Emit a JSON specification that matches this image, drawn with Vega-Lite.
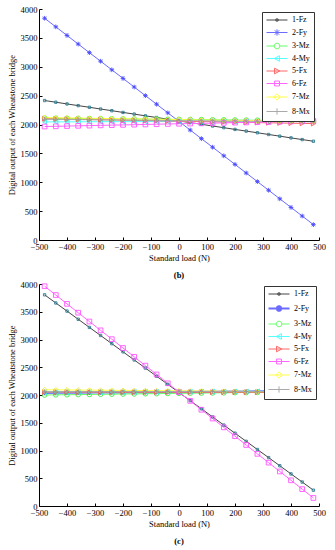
{
"$schema":"https://vega.github.io/schema/vega-lite/v6.json",
"padding":{"left":7,"top":5,"right":5,"bottom":5},
"datasets":{
"b":[
{"s":"1-Fz","x":-480,"y":2415},{"s":"1-Fz","x":-440,"y":2386},{"s":"1-Fz","x":-400,"y":2356},{"s":"1-Fz","x":-360,"y":2327},{"s":"1-Fz","x":-320,"y":2298},{"s":"1-Fz","x":-280,"y":2268},{"s":"1-Fz","x":-240,"y":2239},{"s":"1-Fz","x":-200,"y":2209},{"s":"1-Fz","x":-160,"y":2180},{"s":"1-Fz","x":-120,"y":2150},{"s":"1-Fz","x":-80,"y":2121},{"s":"1-Fz","x":-40,"y":2092},{"s":"1-Fz","x":0,"y":2062},{"s":"1-Fz","x":40,"y":2033},{"s":"1-Fz","x":80,"y":2004},{"s":"1-Fz","x":120,"y":1974},{"s":"1-Fz","x":160,"y":1945},{"s":"1-Fz","x":200,"y":1915},{"s":"1-Fz","x":240,"y":1886},{"s":"1-Fz","x":280,"y":1857},{"s":"1-Fz","x":320,"y":1827},{"s":"1-Fz","x":360,"y":1798},{"s":"1-Fz","x":400,"y":1768},{"s":"1-Fz","x":440,"y":1739},{"s":"1-Fz","x":480,"y":1710},
{"s":"2-Fy","x":-480,"y":3840},{"s":"2-Fy","x":-440,"y":3691},{"s":"2-Fy","x":-400,"y":3542},{"s":"2-Fy","x":-360,"y":3393},{"s":"2-Fy","x":-320,"y":3244},{"s":"2-Fy","x":-280,"y":3096},{"s":"2-Fy","x":-240,"y":2947},{"s":"2-Fy","x":-200,"y":2798},{"s":"2-Fy","x":-160,"y":2649},{"s":"2-Fy","x":-120,"y":2500},{"s":"2-Fy","x":-80,"y":2351},{"s":"2-Fy","x":-40,"y":2202},{"s":"2-Fy","x":0,"y":2053},{"s":"2-Fy","x":40,"y":1904},{"s":"2-Fy","x":80,"y":1755},{"s":"2-Fy","x":120,"y":1607},{"s":"2-Fy","x":160,"y":1458},{"s":"2-Fy","x":200,"y":1309},{"s":"2-Fy","x":240,"y":1160},{"s":"2-Fy","x":280,"y":1011},{"s":"2-Fy","x":320,"y":862},{"s":"2-Fy","x":360,"y":713},{"s":"2-Fy","x":400,"y":564},{"s":"2-Fy","x":440,"y":415},{"s":"2-Fy","x":480,"y":266},
{"s":"3-Mz","x":-480,"y":2110},{"s":"3-Mz","x":-440,"y":2108},{"s":"3-Mz","x":-400,"y":2106},{"s":"3-Mz","x":-360,"y":2104},{"s":"3-Mz","x":-320,"y":2103},{"s":"3-Mz","x":-280,"y":2101},{"s":"3-Mz","x":-240,"y":2099},{"s":"3-Mz","x":-200,"y":2097},{"s":"3-Mz","x":-160,"y":2095},{"s":"3-Mz","x":-120,"y":2093},{"s":"3-Mz","x":-80,"y":2091},{"s":"3-Mz","x":-40,"y":2089},{"s":"3-Mz","x":0,"y":2088},{"s":"3-Mz","x":40,"y":2086},{"s":"3-Mz","x":80,"y":2084},{"s":"3-Mz","x":120,"y":2082},{"s":"3-Mz","x":160,"y":2080},{"s":"3-Mz","x":200,"y":2078},{"s":"3-Mz","x":240,"y":2076},{"s":"3-Mz","x":280,"y":2074},{"s":"3-Mz","x":320,"y":2072},{"s":"3-Mz","x":360,"y":2071},{"s":"3-Mz","x":400,"y":2069},{"s":"3-Mz","x":440,"y":2067},{"s":"3-Mz","x":480,"y":2065},
{"s":"4-My","x":-480,"y":2045},{"s":"4-My","x":-440,"y":2046},{"s":"4-My","x":-400,"y":2046},{"s":"4-My","x":-360,"y":2047},{"s":"4-My","x":-320,"y":2048},{"s":"4-My","x":-280,"y":2048},{"s":"4-My","x":-240,"y":2049},{"s":"4-My","x":-200,"y":2049},{"s":"4-My","x":-160,"y":2050},{"s":"4-My","x":-120,"y":2051},{"s":"4-My","x":-80,"y":2051},{"s":"4-My","x":-40,"y":2052},{"s":"4-My","x":0,"y":2053},{"s":"4-My","x":40,"y":2053},{"s":"4-My","x":80,"y":2054},{"s":"4-My","x":120,"y":2054},{"s":"4-My","x":160,"y":2055},{"s":"4-My","x":200,"y":2056},{"s":"4-My","x":240,"y":2056},{"s":"4-My","x":280,"y":2057},{"s":"4-My","x":320,"y":2058},{"s":"4-My","x":360,"y":2058},{"s":"4-My","x":400,"y":2059},{"s":"4-My","x":440,"y":2059},{"s":"4-My","x":480,"y":2060},
{"s":"5-Fx","x":-480,"y":2100},{"s":"5-Fx","x":-440,"y":2096},{"s":"5-Fx","x":-400,"y":2093},{"s":"5-Fx","x":-360,"y":2089},{"s":"5-Fx","x":-320,"y":2086},{"s":"5-Fx","x":-280,"y":2082},{"s":"5-Fx","x":-240,"y":2079},{"s":"5-Fx","x":-200,"y":2075},{"s":"5-Fx","x":-160,"y":2072},{"s":"5-Fx","x":-120,"y":2068},{"s":"5-Fx","x":-80,"y":2065},{"s":"5-Fx","x":-40,"y":2061},{"s":"5-Fx","x":0,"y":2058},{"s":"5-Fx","x":40,"y":2054},{"s":"5-Fx","x":80,"y":2050},{"s":"5-Fx","x":120,"y":2047},{"s":"5-Fx","x":160,"y":2043},{"s":"5-Fx","x":200,"y":2040},{"s":"5-Fx","x":240,"y":2036},{"s":"5-Fx","x":280,"y":2033},{"s":"5-Fx","x":320,"y":2029},{"s":"5-Fx","x":360,"y":2026},{"s":"5-Fx","x":400,"y":2022},{"s":"5-Fx","x":440,"y":2019},{"s":"5-Fx","x":480,"y":2015},
{"s":"6-Fz","x":-480,"y":1965},{"s":"6-Fz","x":-440,"y":1969},{"s":"6-Fz","x":-400,"y":1973},{"s":"6-Fz","x":-360,"y":1977},{"s":"6-Fz","x":-320,"y":1981},{"s":"6-Fz","x":-280,"y":1985},{"s":"6-Fz","x":-240,"y":1989},{"s":"6-Fz","x":-200,"y":1993},{"s":"6-Fz","x":-160,"y":1997},{"s":"6-Fz","x":-120,"y":2001},{"s":"6-Fz","x":-80,"y":2005},{"s":"6-Fz","x":-40,"y":2009},{"s":"6-Fz","x":0,"y":2013},{"s":"6-Fz","x":40,"y":2016},{"s":"6-Fz","x":80,"y":2020},{"s":"6-Fz","x":120,"y":2024},{"s":"6-Fz","x":160,"y":2028},{"s":"6-Fz","x":200,"y":2032},{"s":"6-Fz","x":240,"y":2036},{"s":"6-Fz","x":280,"y":2040},{"s":"6-Fz","x":320,"y":2044},{"s":"6-Fz","x":360,"y":2048},{"s":"6-Fz","x":400,"y":2052},{"s":"6-Fz","x":440,"y":2056},{"s":"6-Fz","x":480,"y":2060},
{"s":"7-Mz","x":-480,"y":2120},{"s":"7-Mz","x":-440,"y":2117},{"s":"7-Mz","x":-400,"y":2114},{"s":"7-Mz","x":-360,"y":2111},{"s":"7-Mz","x":-320,"y":2108},{"s":"7-Mz","x":-280,"y":2105},{"s":"7-Mz","x":-240,"y":2103},{"s":"7-Mz","x":-200,"y":2100},{"s":"7-Mz","x":-160,"y":2097},{"s":"7-Mz","x":-120,"y":2094},{"s":"7-Mz","x":-80,"y":2091},{"s":"7-Mz","x":-40,"y":2088},{"s":"7-Mz","x":0,"y":2085},{"s":"7-Mz","x":40,"y":2082},{"s":"7-Mz","x":80,"y":2079},{"s":"7-Mz","x":120,"y":2076},{"s":"7-Mz","x":160,"y":2073},{"s":"7-Mz","x":200,"y":2070},{"s":"7-Mz","x":240,"y":2068},{"s":"7-Mz","x":280,"y":2065},{"s":"7-Mz","x":320,"y":2062},{"s":"7-Mz","x":360,"y":2059},{"s":"7-Mz","x":400,"y":2056},{"s":"7-Mz","x":440,"y":2053},{"s":"7-Mz","x":480,"y":2050},
{"s":"8-Mx","x":-480,"y":2090},{"s":"8-Mx","x":-440,"y":2088},{"s":"8-Mx","x":-400,"y":2086},{"s":"8-Mx","x":-360,"y":2084},{"s":"8-Mx","x":-320,"y":2083},{"s":"8-Mx","x":-280,"y":2081},{"s":"8-Mx","x":-240,"y":2079},{"s":"8-Mx","x":-200,"y":2077},{"s":"8-Mx","x":-160,"y":2075},{"s":"8-Mx","x":-120,"y":2073},{"s":"8-Mx","x":-80,"y":2071},{"s":"8-Mx","x":-40,"y":2069},{"s":"8-Mx","x":0,"y":2068},{"s":"8-Mx","x":40,"y":2066},{"s":"8-Mx","x":80,"y":2064},{"s":"8-Mx","x":120,"y":2062},{"s":"8-Mx","x":160,"y":2060},{"s":"8-Mx","x":200,"y":2058},{"s":"8-Mx","x":240,"y":2056},{"s":"8-Mx","x":280,"y":2054},{"s":"8-Mx","x":320,"y":2052},{"s":"8-Mx","x":360,"y":2051},{"s":"8-Mx","x":400,"y":2049},{"s":"8-Mx","x":440,"y":2047},{"s":"8-Mx","x":480,"y":2045}
],
"c":[
{"s":"1-Fz","x":-480,"y":3805},{"s":"1-Fz","x":-440,"y":3658},{"s":"1-Fz","x":-400,"y":3512},{"s":"1-Fz","x":-360,"y":3365},{"s":"1-Fz","x":-320,"y":3218},{"s":"1-Fz","x":-280,"y":3072},{"s":"1-Fz","x":-240,"y":2925},{"s":"1-Fz","x":-200,"y":2778},{"s":"1-Fz","x":-160,"y":2632},{"s":"1-Fz","x":-120,"y":2485},{"s":"1-Fz","x":-80,"y":2338},{"s":"1-Fz","x":-40,"y":2192},{"s":"1-Fz","x":0,"y":2045},{"s":"1-Fz","x":40,"y":1898},{"s":"1-Fz","x":80,"y":1752},{"s":"1-Fz","x":120,"y":1605},{"s":"1-Fz","x":160,"y":1458},{"s":"1-Fz","x":200,"y":1312},{"s":"1-Fz","x":240,"y":1165},{"s":"1-Fz","x":280,"y":1018},{"s":"1-Fz","x":320,"y":872},{"s":"1-Fz","x":360,"y":725},{"s":"1-Fz","x":400,"y":578},{"s":"1-Fz","x":440,"y":432},{"s":"1-Fz","x":480,"y":285},
{"s":"2-Fy","x":-480,"y":2040},{"s":"2-Fy","x":-440,"y":2041},{"s":"2-Fy","x":-400,"y":2043},{"s":"2-Fy","x":-360,"y":2044},{"s":"2-Fy","x":-320,"y":2045},{"s":"2-Fy","x":-280,"y":2046},{"s":"2-Fy","x":-240,"y":2048},{"s":"2-Fy","x":-200,"y":2049},{"s":"2-Fy","x":-160,"y":2050},{"s":"2-Fy","x":-120,"y":2051},{"s":"2-Fy","x":-80,"y":2053},{"s":"2-Fy","x":-40,"y":2054},{"s":"2-Fy","x":0,"y":2055},{"s":"2-Fy","x":40,"y":2056},{"s":"2-Fy","x":80,"y":2058},{"s":"2-Fy","x":120,"y":2059},{"s":"2-Fy","x":160,"y":2060},{"s":"2-Fy","x":200,"y":2061},{"s":"2-Fy","x":240,"y":2063},{"s":"2-Fy","x":280,"y":2064},{"s":"2-Fy","x":320,"y":2065},{"s":"2-Fy","x":360,"y":2066},{"s":"2-Fy","x":400,"y":2068},{"s":"2-Fy","x":440,"y":2069},{"s":"2-Fy","x":480,"y":2070},
{"s":"3-Mz","x":-480,"y":2000},{"s":"3-Mz","x":-440,"y":2003},{"s":"3-Mz","x":-400,"y":2005},{"s":"3-Mz","x":-360,"y":2008},{"s":"3-Mz","x":-320,"y":2010},{"s":"3-Mz","x":-280,"y":2013},{"s":"3-Mz","x":-240,"y":2015},{"s":"3-Mz","x":-200,"y":2018},{"s":"3-Mz","x":-160,"y":2020},{"s":"3-Mz","x":-120,"y":2023},{"s":"3-Mz","x":-80,"y":2025},{"s":"3-Mz","x":-40,"y":2028},{"s":"3-Mz","x":0,"y":2030},{"s":"3-Mz","x":40,"y":2033},{"s":"3-Mz","x":80,"y":2035},{"s":"3-Mz","x":120,"y":2038},{"s":"3-Mz","x":160,"y":2040},{"s":"3-Mz","x":200,"y":2043},{"s":"3-Mz","x":240,"y":2045},{"s":"3-Mz","x":280,"y":2048},{"s":"3-Mz","x":320,"y":2050},{"s":"3-Mz","x":360,"y":2053},{"s":"3-Mz","x":400,"y":2055},{"s":"3-Mz","x":440,"y":2058},{"s":"3-Mz","x":480,"y":2060},
{"s":"4-My","x":-480,"y":2050},{"s":"4-My","x":-440,"y":2051},{"s":"4-My","x":-400,"y":2052},{"s":"4-My","x":-360,"y":2053},{"s":"4-My","x":-320,"y":2053},{"s":"4-My","x":-280,"y":2054},{"s":"4-My","x":-240,"y":2055},{"s":"4-My","x":-200,"y":2056},{"s":"4-My","x":-160,"y":2057},{"s":"4-My","x":-120,"y":2058},{"s":"4-My","x":-80,"y":2058},{"s":"4-My","x":-40,"y":2059},{"s":"4-My","x":0,"y":2060},{"s":"4-My","x":40,"y":2061},{"s":"4-My","x":80,"y":2062},{"s":"4-My","x":120,"y":2063},{"s":"4-My","x":160,"y":2063},{"s":"4-My","x":200,"y":2064},{"s":"4-My","x":240,"y":2065},{"s":"4-My","x":280,"y":2066},{"s":"4-My","x":320,"y":2067},{"s":"4-My","x":360,"y":2068},{"s":"4-My","x":400,"y":2068},{"s":"4-My","x":440,"y":2069},{"s":"4-My","x":480,"y":2070},
{"s":"5-Fx","x":-480,"y":2052},{"s":"5-Fx","x":-440,"y":2052},{"s":"5-Fx","x":-400,"y":2052},{"s":"5-Fx","x":-360,"y":2051},{"s":"5-Fx","x":-320,"y":2051},{"s":"5-Fx","x":-280,"y":2051},{"s":"5-Fx","x":-240,"y":2051},{"s":"5-Fx","x":-200,"y":2051},{"s":"5-Fx","x":-160,"y":2050},{"s":"5-Fx","x":-120,"y":2050},{"s":"5-Fx","x":-80,"y":2050},{"s":"5-Fx","x":-40,"y":2050},{"s":"5-Fx","x":0,"y":2050},{"s":"5-Fx","x":40,"y":2050},{"s":"5-Fx","x":80,"y":2050},{"s":"5-Fx","x":120,"y":2050},{"s":"5-Fx","x":160,"y":2049},{"s":"5-Fx","x":200,"y":2049},{"s":"5-Fx","x":240,"y":2049},{"s":"5-Fx","x":280,"y":2049},{"s":"5-Fx","x":320,"y":2049},{"s":"5-Fx","x":360,"y":2049},{"s":"5-Fx","x":400,"y":2048},{"s":"5-Fx","x":440,"y":2048},{"s":"5-Fx","x":480,"y":2048},
{"s":"6-Fz","x":-480,"y":3960},{"s":"6-Fz","x":-440,"y":3801},{"s":"6-Fz","x":-400,"y":3642},{"s":"6-Fz","x":-360,"y":3483},{"s":"6-Fz","x":-320,"y":3324},{"s":"6-Fz","x":-280,"y":3165},{"s":"6-Fz","x":-240,"y":3006},{"s":"6-Fz","x":-200,"y":2847},{"s":"6-Fz","x":-160,"y":2688},{"s":"6-Fz","x":-120,"y":2529},{"s":"6-Fz","x":-80,"y":2370},{"s":"6-Fz","x":-40,"y":2211},{"s":"6-Fz","x":0,"y":2052},{"s":"6-Fz","x":40,"y":1894},{"s":"6-Fz","x":80,"y":1735},{"s":"6-Fz","x":120,"y":1576},{"s":"6-Fz","x":160,"y":1417},{"s":"6-Fz","x":200,"y":1258},{"s":"6-Fz","x":240,"y":1099},{"s":"6-Fz","x":280,"y":940},{"s":"6-Fz","x":320,"y":781},{"s":"6-Fz","x":360,"y":622},{"s":"6-Fz","x":400,"y":463},{"s":"6-Fz","x":440,"y":304},{"s":"6-Fz","x":480,"y":145},
{"s":"7-Mz","x":-480,"y":2095},{"s":"7-Mz","x":-440,"y":2093},{"s":"7-Mz","x":-400,"y":2092},{"s":"7-Mz","x":-360,"y":2090},{"s":"7-Mz","x":-320,"y":2088},{"s":"7-Mz","x":-280,"y":2087},{"s":"7-Mz","x":-240,"y":2085},{"s":"7-Mz","x":-200,"y":2083},{"s":"7-Mz","x":-160,"y":2082},{"s":"7-Mz","x":-120,"y":2080},{"s":"7-Mz","x":-80,"y":2078},{"s":"7-Mz","x":-40,"y":2077},{"s":"7-Mz","x":0,"y":2075},{"s":"7-Mz","x":40,"y":2073},{"s":"7-Mz","x":80,"y":2072},{"s":"7-Mz","x":120,"y":2070},{"s":"7-Mz","x":160,"y":2068},{"s":"7-Mz","x":200,"y":2067},{"s":"7-Mz","x":240,"y":2065},{"s":"7-Mz","x":280,"y":2063},{"s":"7-Mz","x":320,"y":2062},{"s":"7-Mz","x":360,"y":2060},{"s":"7-Mz","x":400,"y":2058},{"s":"7-Mz","x":440,"y":2057},{"s":"7-Mz","x":480,"y":2055},
{"s":"8-Mx","x":-480,"y":2060},{"s":"8-Mx","x":-440,"y":2060},{"s":"8-Mx","x":-400,"y":2061},{"s":"8-Mx","x":-360,"y":2061},{"s":"8-Mx","x":-320,"y":2061},{"s":"8-Mx","x":-280,"y":2061},{"s":"8-Mx","x":-240,"y":2061},{"s":"8-Mx","x":-200,"y":2062},{"s":"8-Mx","x":-160,"y":2062},{"s":"8-Mx","x":-120,"y":2062},{"s":"8-Mx","x":-80,"y":2062},{"s":"8-Mx","x":-40,"y":2062},{"s":"8-Mx","x":0,"y":2062},{"s":"8-Mx","x":40,"y":2062},{"s":"8-Mx","x":80,"y":2063},{"s":"8-Mx","x":120,"y":2063},{"s":"8-Mx","x":160,"y":2063},{"s":"8-Mx","x":200,"y":2063},{"s":"8-Mx","x":240,"y":2063},{"s":"8-Mx","x":280,"y":2063},{"s":"8-Mx","x":320,"y":2064},{"s":"8-Mx","x":360,"y":2064},{"s":"8-Mx","x":400,"y":2064},{"s":"8-Mx","x":440,"y":2064},{"s":"8-Mx","x":480,"y":2064}
]},
"vconcat":[
{"width":280,"height":231,"data":{"name":"b"},
 "title":{"text":"(b)","orient":"bottom","fontSize":8.5,"fontWeight":"bold","font":"Liberation Serif","offset":9,"color":"black"},
 "encoding":{
  "x":{"field":"x","type":"quantitative","scale":{"domain":[-500,500],"nice":false},"axis":{"values":[-500,-400,-300,-200,-100,0,100,200,300,400,500],"format":"d","labelOverlap":false,"title":"Standard load (N)"}},
  "y":{"field":"y","type":"quantitative","scale":{"domain":[0,4000],"nice":false},"axis":{"values":[0,500,1000,1500,2000,2500,3000,3500,4000],"format":"d","labelOverlap":false,"title":"Digital output of each Wheatstone bridge"}}
 },
 "layer":[
  {"mark":{"type":"line","strokeWidth":1},
   "encoding":{
    "stroke":{"field":"s","type":"nominal","scale":{"domain":["1-Fz","2-Fy","3-Mz","4-My","5-Fx","6-Fz","7-Mz","8-Mx"],"range":["#444444","#6b6bff","#66ff66","#55ffff","#ff6666","#ff66ff","#ffff44","#aaaaaa"]},
     "legend":{"orient":"none","legendX":223,"legendY":3,"title":null,"symbolType":"M-1,0L5,0","symbolSize":49,"symbolStrokeWidth":1,"labelFont":"Liberation Serif","labelFontSize":8,"labelColor":"black","labelOffset":18,"padding":4,"strokeColor":"#333333","fillColor":"white","rowPadding":2.5,
      "encode":{"symbols":{"update":{"shape":{"signal":"datum.value==='1-Fz'?'M-1,0L5,0M1.7,-0.3H2.3V0.3H1.7Z':datum.value==='2-Fy'?'M-1,0L5,0M2,-0.9V0.9M1.35,-0.65L2.65,0.65M1.35,0.65L2.65,-0.65':datum.value==='3-Mz'?'M-1,0L1.2,0M2.8,0L5,0M1.2,0A0.8,0.8 0 1,0 2.8,0A0.8,0.8 0 1,0 1.2,0':datum.value==='4-My'?'M-1,0L5,0M1.2,0L2.7,-0.8L2.7,0.8Z':datum.value==='5-Fx'?'M-1,0L5,0M2.8,0L1.3,-0.8L1.3,0.8Z':datum.value==='6-Fz'?'M-1,0L5,0M1.3,-0.7H2.7V0.7H1.3Z':datum.value==='7-Mz'?'M-1,0L5,0M2,-0.9L2.9,0L2,0.9L1.1,0Z':'M-1,0L5,0M2,-0.9V0.9'"}}}}}}
   }},
  {"mark":{"type":"point","filled":false,"size":22,"strokeWidth":0.9,"opacity":1},
   "encoding":{
    "color":{"field":"s","type":"nominal","scale":{"range":["#2b7d93","#4a4aff","#44ee44","#33eeee","#ff5555","#ff55ff","#eeee33","#999999"]},"legend":null},
    "shape":{"field":"s","type":"nominal","scale":{"range":["M-0.5,-0.5h1v1h-1z","M-1,0L1,0M0,-1L0,1M-0.7,-0.7L0.7,0.7M-0.7,0.7L0.7,-0.7","circle","triangle-left","triangle-right","square","diamond","M-1,0L1,0M0,-1L0,1"]},"legend":null}
   }}
 ]},
{"width":280,"height":222,"data":{"name":"c"},
 "title":{"text":"(c)","orient":"bottom","fontSize":8.5,"fontWeight":"bold","font":"Liberation Serif","offset":9,"color":"black"},
 "encoding":{
  "x":{"field":"x","type":"quantitative","scale":{"domain":[-500,500],"nice":false},"axis":{"values":[-500,-400,-300,-200,-100,0,100,200,300,400,500],"format":"d","labelOverlap":false,"title":"Standard load (N)"}},
  "y":{"field":"y","type":"quantitative","scale":{"domain":[0,4000],"nice":false},"axis":{"values":[0,500,1000,1500,2000,2500,3000,3500,4000],"format":"d","labelOverlap":false,"title":"Digital output of each Wheatstone bridge"}}
 },
 "layer":[
  {"mark":{"type":"line"},
   "encoding":{
    "strokeWidth":{"condition":{"test":"datum.s==='2-Fy'","value":2.2},"value":1},
    "stroke":{"field":"s","type":"nominal","scale":{"domain":["1-Fz","2-Fy","3-Mz","4-My","5-Fx","6-Fz","7-Mz","8-Mx"],"range":["#444444","#6b6bff","#66ff66","#55ffff","#ff6666","#ff66ff","#ffff44","#aaaaaa"]},
     "legend":{"orient":"none","legendX":225,"legendY":2,"title":null,"symbolType":"M-1,0L5,0","symbolSize":49,"symbolStrokeWidth":1,"labelFont":"Liberation Serif","labelFontSize":8,"labelColor":"black","labelOffset":18,"padding":4,"strokeColor":"#333333","fillColor":"white","rowPadding":2.5,
      "encode":{"symbols":{"update":{"strokeWidth":{"signal":"datum.value==='2-Fy'?2.2:1"},"shape":{"signal":"datum.value==='1-Fz'?'M-1,0L5,0M1.7,-0.3H2.3V0.3H1.7Z':datum.value==='2-Fy'?'M-1,0L5,0M2,-0.9V0.9M1.35,-0.65L2.65,0.65M1.35,0.65L2.65,-0.65':datum.value==='3-Mz'?'M-1,0L1.2,0M2.8,0L5,0M1.2,0A0.8,0.8 0 1,0 2.8,0A0.8,0.8 0 1,0 1.2,0':datum.value==='4-My'?'M-1,0L5,0M1.2,0L2.7,-0.8L2.7,0.8Z':datum.value==='5-Fx'?'M-1,0L5,0M2.8,0L1.3,-0.8L1.3,0.8Z':datum.value==='6-Fz'?'M-1,0L5,0M1.3,-0.7H2.7V0.7H1.3Z':datum.value==='7-Mz'?'M-1,0L5,0M2,-0.9L2.9,0L2,0.9L1.1,0Z':'M-1,0L5,0M2,-0.9V0.9'"}}}}}}
   }},
  {"mark":{"type":"point","filled":false,"size":22,"strokeWidth":0.9,"opacity":1},
   "encoding":{
    "color":{"field":"s","type":"nominal","scale":{"range":["#2b7d93","#4a4aff","#44ee44","#33eeee","#ff5555","#ff55ff","#eeee33","#999999"]},"legend":null},
    "shape":{"field":"s","type":"nominal","scale":{"range":["M-0.5,-0.5h1v1h-1z","M-1,0L1,0M0,-1L0,1M-0.7,-0.7L0.7,0.7M-0.7,0.7L0.7,-0.7","circle","triangle-left","triangle-right","square","diamond","M-1,0L1,0M0,-1L0,1"]},"legend":null}
   }}
 ]}
],
"spacing":0,
"resolve":{"scale":{"stroke":"independent","color":"independent","shape":"independent"}},
"config":{
 "view":{"stroke":null},
 "font":"Liberation Serif",
 "axis":{"labelFont":"Liberation Serif","labelFontSize":8.5,"labelColor":"black","titleFont":"Liberation Serif","titleFontSize":8.5,"titleFontWeight":"normal","titleColor":"black","domainColor":"black","tickColor":"black","grid":false,"tickSize":-3,"labelPadding":5,"labelFlush":false,"labelOverlap":false},
 "axisX":{"titlePadding":3},
 "axisY":{"titlePadding":4}
}
}
